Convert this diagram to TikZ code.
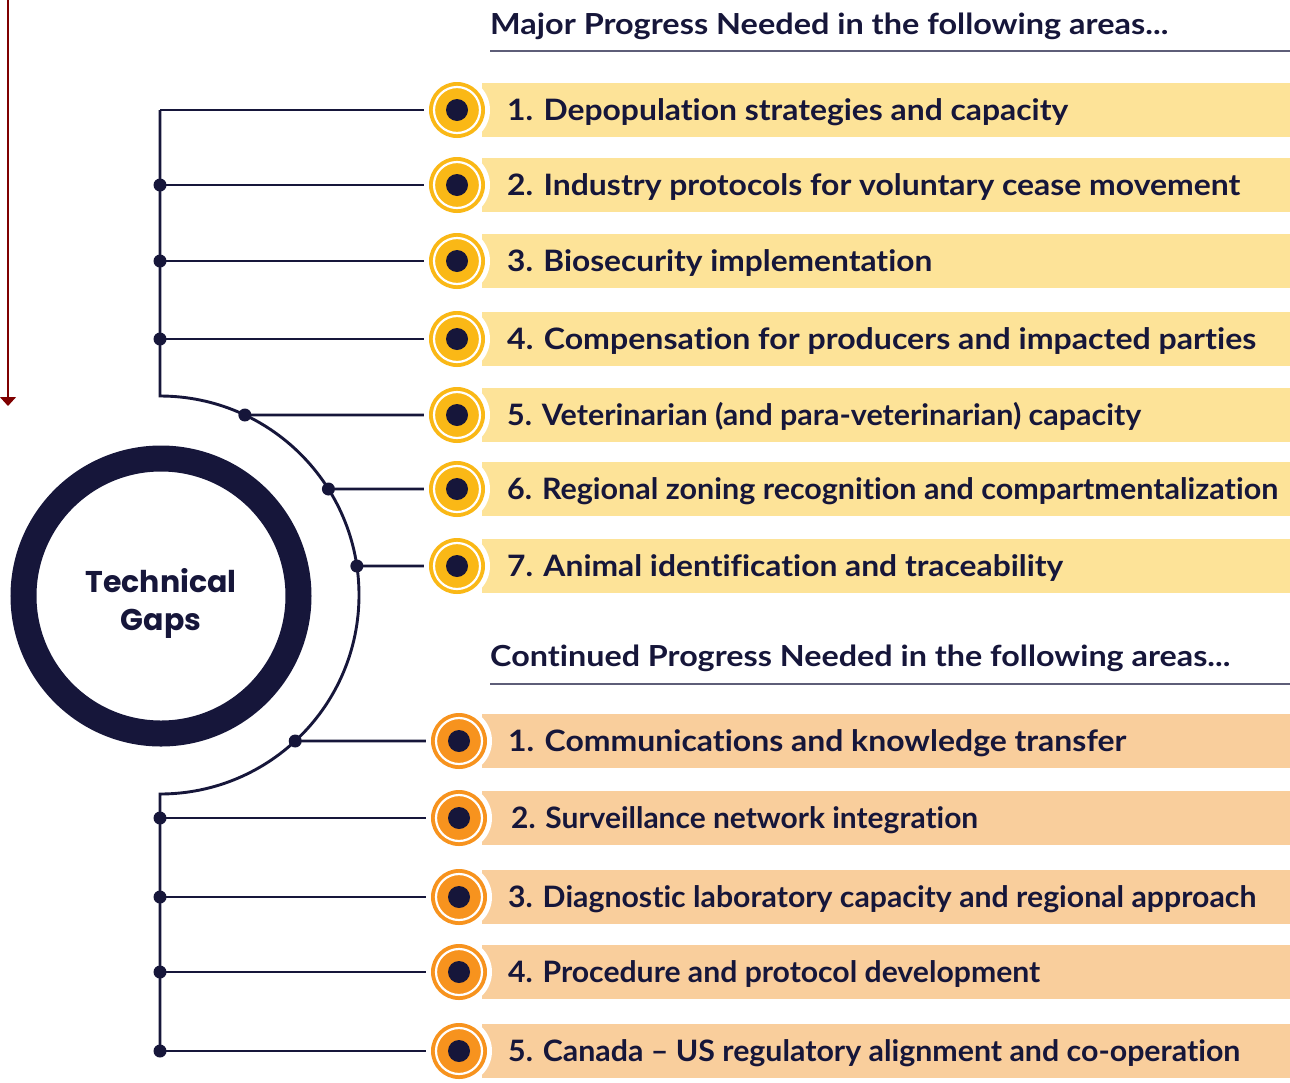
\documentclass[tikz,border=0pt]{standalone}
\usepackage{fontspec}
\usepackage{graphicx}
\setmainfont{Lato}[RawFeature={-liga;-clig;-dlig}]
\newfontfamily\popfont{Poppins}
\usetikzlibrary{calc,arrows.meta}
\definecolor{navy}{HTML}{16163A}
\definecolor{bandY}{HTML}{FDE398}
\definecolor{bandO}{HTML}{F9CE9C}
\definecolor{bulY}{HTML}{FAB816}
\definecolor{bulO}{HTML}{F7931E}
\definecolor{arrred}{HTML}{7F0000}
\definecolor{rulecol}{HTML}{5E5E78}
\newsavebox\fitbox
\newcommand\fitto[2]{\sbox\fitbox{#2}\pgfmathsetmacro\myscale{#1/\the\wd\fitbox}\scalebox{\myscale}[1]{\usebox\fitbox}}
\tikzset{
  conn/.style={navy, line width=2.9},
  jdot/.style={navy},
  bullet/.style={circle, fill=white, minimum size=66, inner sep=0pt,
    path picture={
      \fill[#1] (path picture bounding box.center) circle (28);
      \draw[white, line width=2.2] (path picture bounding box.center) circle (23);
      \fill[navy] (path picture bounding box.center) circle (11);
    }},
  item/.style={anchor=base west, inner sep=0pt, text=navy, font=\fontsize{29.5}{34}\selectfont\bfseries},
  head/.style={anchor=base west, inner sep=0pt, text=navy, font=\fontsize{29}{34}\selectfont\bfseries},
}
\begin{document}
\begin{tikzpicture}[x=1pt,y=1pt]
\useasboundingbox (0,0) rectangle (1290,-1082);
% stray red arrow
\coordinate (rtop) at (8,0);
\coordinate (rend) at (8,-406);
\draw[arrred, line width=1.4, -{Triangle[width=16,length=9]}] (rtop) -- (rend);
% headers
\node[head] (h1) at (490,-34) {\fitto{678}{Major Progress Needed in the following areas...}};
\draw[rulecol, line width=2.5] (490,-51) -- (1290,-51);
\node[head] (h2) at (490,-666) {\fitto{740}{Continued Progress Needed in the following areas...}};
\draw[rulecol, line width=2.5] (490,-684) -- (1290,-684);
% bands
\foreach \y in {110,185,261,339,415,489,566}{
  \fill[bandY] (482,-\y+27) rectangle (1290,-\y-27);
}
\foreach \y in {741,818,897,972,1051}{
  \fill[bandO] (482,-\y+27) rectangle (1290,-\y-27);
}
% central circle
\node[circle, draw=navy, line width=26, minimum size=275, inner sep=0pt,
      text=navy] (tg) at (161,-596) {};
\node[align=center, text=navy, inner sep=0pt, font=\popfont\bfseries\fontsize{30}{38}\selectfont]
      (tgl) at (161,-603) {Technical\\Gaps};
\coordinate (ac) at (160,-595);
% bullets
\node[bullet=bulY] (a1) at (457,-110) {};
\node[bullet=bulY] (a2) at (457,-185) {};
\node[bullet=bulY] (a3) at (457,-261) {};
\node[bullet=bulY] (a4) at (457,-339) {};
\node[bullet=bulY] (a5) at (457,-415) {};
\node[bullet=bulY] (a6) at (457,-489) {};
\node[bullet=bulY] (a7) at (457,-566) {};
\node[bullet=bulO] (c1) at (459,-741) {};
\node[bullet=bulO] (c2) at (459,-818) {};
\node[bullet=bulO] (c3) at (459,-897) {};
\node[bullet=bulO] (c4) at (459,-972) {};
\node[bullet=bulO] (c5) at (459,-1051) {};
% junctions
\coordinate (j1) at (160,-110);
\coordinate (j2) at (160,-185);
\coordinate (j3) at (160,-261);
\coordinate (j4) at (160,-339);
\coordinate (j5) at ($(ac)+({asin(180/199)}:199)$);
\coordinate (j6) at ($(ac)+({asin(106/199)}:199)$);
\coordinate (j7) at ($(ac)+({asin(29/199)}:199)$);
\coordinate (k1) at ($(ac)+({-asin(146/199)}:199)$);
\coordinate (k2) at (160,-818);
\coordinate (k3) at (160,-897);
\coordinate (k4) at (160,-972);
\coordinate (k5) at (160,-1051);
\coordinate (arctop) at (160,-396);
% trunk
\draw[conn, line join=miter] (j1) -- (arctop) arc[start angle=90, end angle=-90, radius=199] -- (k5);
% branches
\foreach \j/\b in {j1/a1,j2/a2,j3/a3,j4/a4,j5/a5,j6/a6,j7/a7,k1/c1,k2/c2,k3/c3,k4/c4,k5/c5}{
  \draw[conn] (\j) -- (\b);
}
\foreach \j in {j2,j3,j4,j5,j6,j7,k1,k2,k3,k4,k5}{
  \fill[jdot] (\j) circle (6.5);
}
% item texts
\node[item] (t1) at (507,-120.5) {\fitto{561}{1. Depopulation strategies and capacity}};
\node[item] (t2) at (507,-195.5) {\fitto{733}{2. Industry protocols for voluntary cease movement}};
\node[item] (t3) at (507,-271.5) {\fitto{425}{3. Biosecurity implementation}};
\node[item] (t4) at (507,-349.5) {\fitto{749}{4. Compensation for producers and impacted parties}};
\node[item] (t5) at (507,-425.5) {\fitto{634}{5. Veterinarian (and para-veterinarian) capacity}};
\node[item] (t6) at (507,-499.5) {\fitto{771}{6. Regional zoning recognition and compartmentalization}};
\node[item] (t7) at (507,-576.5) {\fitto{556}{7. Animal identification and traceability}};
\node[item] (u1) at (508,-751.5) {\fitto{618}{1. Communications and knowledge transfer}};
\node[item] (u2) at (511,-828.5) {\fitto{467}{2. Surveillance network integration}};
\node[item] (u3) at (508,-907.5) {\fitto{748}{3. Diagnostic laboratory capacity and regional approach}};
\node[item] (u4) at (508,-982.5) {\fitto{532}{4. Procedure and protocol development}};
\node[item] (u5) at (508,-1061.5) {\fitto{732}{5. Canada -- US regulatory alignment and co-operation}};
\end{tikzpicture}
\end{document}
